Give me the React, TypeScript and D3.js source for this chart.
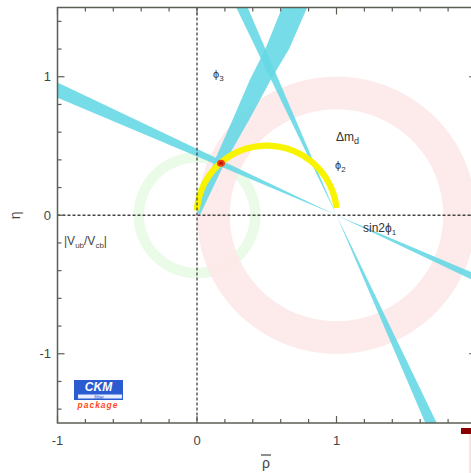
import React from "react";
import * as d3 from "d3";

// ---- data (rho-bar, eta-bar space) ----
const xDomain = [-1, 2];
const yDomain = [-1.5, 1.5];
const xTickLabels = [-1, 0, 1];
const yTickLabels = [-1, 0, 1];
const minorStep = 0.2;

// sin2phi1 band: beta range (deg), apex at (1,0); two solutions (beta and 90-beta)
const apex = [1, 0];
const betaRange = [23.0, 25.6];

// phi3 band edges (rho, eta)
const phi3Left = [[0.0, 0.03], [0.12, 0.38], [0.26, 0.7], [0.38, 0.98], [0.49, 1.2], [0.61, 1.5]];
const phi3Right = [[0.02, 0.0], [0.2, 0.38], [0.38, 0.7], [0.53, 0.98], [0.66, 1.2], [0.79, 1.5]];

// rings: [centerRho, centerEta, rInner, rOuter]
const vubRing = [0, 0, 0.38, 0.455];
const dmdRing = [1, 0, 0.765, 1.0];

// phi2 (alpha) arc: center, radii, angle range deg
const alphaArc = [0.5, 0, 0.48, 0.525];
const alphaAngles = [6, 176];

// best-fit point
const fitPoint = [0.172, 0.375];

const W = 471, H = 473;

export default function App() {
  const x = d3.scaleLinear().domain(xDomain).range([57.5, 476]);
  const y = d3.scaleLinear().domain(yDomain).range([423, 7.5]);
  const line = d3.line<number[]>().x(d => x(d[0])).y(d => y(d[1]));
  const deg = Math.PI / 180;

  const ringPath = (r: number[]) => {
    const [cx, cy, ri, ro] = r;
    const angs = d3.range(0, 361, 2);
    const outer = angs.map(a => [cx + ro * Math.cos(a * deg), cy + ro * Math.sin(a * deg)]);
    const inner = angs.slice().reverse().map(a => [cx + ri * Math.cos(a * deg), cy + ri * Math.sin(a * deg)]);
    return line(outer)! + "Z" + line(inner)! + "Z";
  };

  const arcPath = () => {
    const [cx, cy, ri, ro] = alphaArc;
    const angs = d3.range(alphaAngles[0], alphaAngles[1] + 0.01, 2);
    const outer = angs.map(a => [cx + ro * Math.cos(a * deg), cy + ro * Math.sin(a * deg)]);
    const inner = angs.slice().reverse().map(a => [cx + ri * Math.cos(a * deg), cy + ri * Math.sin(a * deg)]);
    return line(outer.concat(inner))! + "Z";
  };

  const L = 6;
  const wedge = (a1: number, a2: number) => {
    const p1 = [apex[0] + L * Math.cos(a1 * deg), apex[1] + L * Math.sin(a1 * deg)];
    const p2 = [apex[0] + L * Math.cos(a2 * deg), apex[1] + L * Math.sin(a2 * deg)];
    return line([apex, p1, p2])! + "Z";
  };
  const [b1, b2] = betaRange;
  const bands = [
    wedge(180 - b1, 180 - b2),
    wedge(-b1, -b2),
    wedge(90 + b1, 90 + b2),
    wedge(-(90 - b1), -(90 - b2)),
  ];
  const phi3Path = line(phi3Left.concat(phi3Right.slice().reverse()))! + "Z";

  const x0 = x(xDomain[0]), x1 = x(xDomain[1]);
  const y0 = y(yDomain[0]), y1 = y(yDomain[1]);

  const xMinor = d3.range(-1, 2.0001, minorStep);
  const yMinor = d3.range(-1.4, 1.4001, minorStep);
  const axisColor = "#5a5f55";
  const font = "'Liberation Sans', Arial, sans-serif";
  const cyan = "#66d8e6";

  return (
    <svg width={W} height={H} style={{ position: "absolute", left: 0, top: 0, background: "#fff" }}>
      <defs>
        <clipPath id="plot">
          <rect x={x0} y={y1} width={x1 - x0} height={y0 - y1} />
        </clipPath>
      </defs>
      <g clipPath="url(#plot)">
        <path d={ringPath(vubRing)} fill="#eafbe8" fillRule="evenodd" />
        <path d={ringPath(dmdRing)} fill="#fde8e8" fillRule="evenodd" opacity={0.9} />
        {bands.map((d, i) => (
          <path key={i} d={d} fill={cyan} opacity={0.9} />
        ))}
        <path d={phi3Path} fill={cyan} opacity={0.9} />
        <path d={arcPath()} fill="#f8f400" />
        <ellipse cx={x(fitPoint[0])} cy={y(fitPoint[1])} rx={4} ry={3.5} fill="#f04010" />
        <ellipse cx={x(fitPoint[0])} cy={y(fitPoint[1])} rx={2} ry={1.8} fill="#c01808" />
        {/* dashed axes through 0 */}
        <line x1={x(0)} x2={x(0)} y1={y1} y2={y0} stroke="#444" strokeWidth={1.3} strokeDasharray="3,2" />
        <line x1={x0} x2={x1} y1={y(0)} y2={y(0)} stroke="#444" strokeWidth={1.3} strokeDasharray="3,2" />
      </g>

      {/* frame */}
      <rect x={x0} y={y1} width={x1 - x0} height={y0 - y1} fill="none" stroke={axisColor} strokeWidth={1.5} />
      {xMinor.map((v, i) => {
        const major = Math.abs(v - Math.round(v)) < 1e-6;
        const len = major ? 7 : 4;
        return (
          <g key={"xt" + i}>
            <line x1={x(v)} x2={x(v)} y1={y0} y2={y0 - len} stroke={axisColor} strokeWidth={1.2} />
            <line x1={x(v)} x2={x(v)} y1={y1} y2={y1 + len} stroke={axisColor} strokeWidth={1.2} />
          </g>
        );
      })}
      {yMinor.map((v, i) => {
        const major = Math.abs(v - Math.round(v)) < 1e-6;
        const len = major ? 7 : 4;
        return (
          <g key={"yt" + i}>
            <line x1={x0} x2={x0 + len} y1={y(v)} y2={y(v)} stroke={axisColor} strokeWidth={1.2} />
            <line x1={x1} x2={x1 - len} y1={y(v)} y2={y(v)} stroke={axisColor} strokeWidth={1.2} />
          </g>
        );
      })}
      {xTickLabels.map(v => (
        <text key={"xl" + v} x={x(v)} y={445} textAnchor="middle" fontFamily={font} fontSize={13} fill="#444">
          {v}
        </text>
      ))}
      {yTickLabels.map(v => (
        <text key={"yl" + v} x={51} y={y(v) + 4.5} textAnchor="end" fontFamily={font} fontSize={13} fill="#444">
          {v}
        </text>
      ))}
      {/* axis titles */}
      <text x={266} y={468} textAnchor="middle" fontFamily={font} fontSize={14} fill="#444">ρ</text>
      <line x1={261} x2={271} y1={455} y2={455} stroke="#444" strokeWidth={1.2} />
      <text transform={`translate(20,${y(0)}) rotate(-90)`} textAnchor="middle" fontFamily={font} fontSize={14} fill="#444">η</text>

      {/* constraint labels */}
      <text x={213} y={78} fontFamily={font} fontSize={11} fill="#333">
        ϕ<tspan fontSize={8} dy={3}>3</tspan>
      </text>
      <text x={336} y={141} fontFamily={font} fontSize={12} fill="#333">
        Δm<tspan fontSize={9} dy={3}>d</tspan>
      </text>
      <text x={335} y={169} fontFamily={font} fontSize={11} fill="#333">
        ϕ<tspan fontSize={8} dy={3}>2</tspan>
      </text>
      <text x={363} y={232} fontFamily={font} fontSize={12} fill="#333">
        sin2ϕ<tspan fontSize={8} dy={3}>1</tspan>
      </text>
      <text x={64} y={245} fontFamily={font} fontSize={12} fill="#444">
        |V<tspan fontSize={8} dy={3}>ub</tspan><tspan dy={-3}>/V</tspan><tspan fontSize={8} dy={3}>cb</tspan><tspan dy={-3}>|</tspan>
      </text>

      {/* CKMfitter logo */}
      <rect x={74} y={380} width={49} height={13} fill="#2a5bd0" />
      <text x={98.5} y={391} textAnchor="middle" fontFamily={font} fontSize={12} fontStyle="italic" fontWeight="bold" fill="#fff">CKM</text>
      <rect x={74} y={393} width={49} height={7} fill="#2a5bd0" />
      <rect x={78} y={394.5} width={44} height={4} fill="#e8eeff" />
      <text x={99} y={398.5} textAnchor="middle" fontFamily={font} fontSize={5} fontStyle="italic" fill="#2a5bd0">fitter</text>
      <text x={98} y={408} textAnchor="middle" fontFamily={font} fontSize={8.5} fontStyle="italic" fontWeight="bold" fill="#ff4a1a" letterSpacing={1}>package</text>

      {/* partial legend mark at bottom right */}
      <rect x={461} y={428} width={10} height={6} fill="#8b0000" />
      <line x1={470} x2={470} y1={434} y2={473} stroke="#f2c8c8" strokeWidth={1} />
    </svg>
  );
}
